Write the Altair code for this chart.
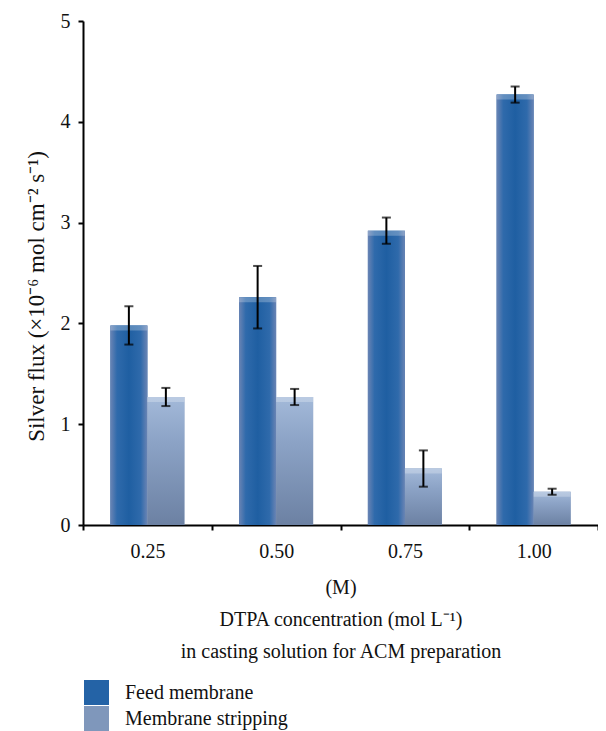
import altair as alt
import pandas as pd

conc = ["0.25", "0.50", "0.75", "1.00"]
series = ["Feed membrane", "Membrane stripping"]
feed = [1.98, 2.26, 2.92, 4.27]
feed_err = [0.19, 0.31, 0.13, 0.08]
strip = [1.27, 1.27, 0.56, 0.33]
strip_err = [0.09, 0.08, 0.18, 0.03]

rows = []
for c, v, e in zip(conc, feed, feed_err):
    rows.append({"conc": c, "series": series[0], "flux": v, "err": e})
for c, v, e in zip(conc, strip, strip_err):
    rows.append({"conc": c, "series": series[1], "flux": v, "err": e})
df = pd.DataFrame(rows)

FONT = "Liberation Serif"
YTITLE = "Silver flux (×10⁻⁶ mol cm⁻² s⁻¹)"

x_enc = alt.X(
    "conc:N",
    sort=conc,
    scale=alt.Scale(paddingInner=0, paddingOuter=0),
    axis=alt.Axis(
        title=["(M)", "DTPA concentration (mol L⁻¹)", "in casting solution for ACM preparation"],
        labelAngle=0,
        tickBand="extent",
        labelPadding=11,
        titlePadding=16,
        titleLineHeight=32,
    ),
)
xo_enc = alt.XOffset("series:N", sort=series, scale=alt.Scale(paddingOuter=0.74, paddingInner=0))
y_axis = alt.Axis(
    values=[0, 1, 2, 3, 4, 5], format="d", title=YTITLE, grid=False,
    labelPadding=8, titlePadding=12, titleFontSize=23, titleY=275,
)
y_scale = alt.Scale(domain=[0, 5], nice=False)

base = alt.Chart(df)

legend_bars = base.mark_bar().encode(
    x=x_enc,
    xOffset=xo_enc,
    y=alt.Y("flux:Q", scale=y_scale, axis=y_axis),
    color=alt.Color(
        "series:N",
        sort=series,
        scale=alt.Scale(domain=series, range=["#2463a6", "#7f97bb"]),
        legend=alt.Legend(
            title=None,
            orient="none",
            legendX=1,
            legendY=659,
            symbolType="square",
            symbolSize=625,
            symbolStrokeWidth=0,
            rowPadding=1,
            labelOffset=16,
            labelLimit=400,
            padding=0,
            labelFontSize=20,
            labelFont=FONT,
            labelColor="#111111",
        ),
    ),
)

feed_grad = alt.Gradient(
    gradient="linear", x1=0, x2=1, y1=0, y2=0,
    stops=[
        alt.GradientStop(color="#6a84b4", offset=0),
        alt.GradientStop(color="#2f6aab", offset=0.18),
        alt.GradientStop(color="#1f5fa2", offset=0.5),
        alt.GradientStop(color="#2f6aab", offset=0.82),
        alt.GradientStop(color="#6a84b4", offset=1),
    ],
)
strip_grad = alt.Gradient(
    gradient="linear", x1=0, x2=0, y1=0, y2=1,
    stops=[
        alt.GradientStop(color="#a3b9d9", offset=0),
        alt.GradientStop(color="#8ca3c6", offset=0.35),
        alt.GradientStop(color="#6c81a3", offset=1),
    ],
)

yq = alt.Y("flux:Q", scale=y_scale, title=YTITLE)

feed_bars = base.transform_filter(alt.datum.series == series[0]).mark_bar(fill=feed_grad).encode(
    x=x_enc, xOffset=xo_enc, y=yq
)
strip_bars = base.transform_filter(alt.datum.series == series[1]).mark_bar(fill=strip_grad).encode(
    x=x_enc, xOffset=xo_enc, y=yq
)
bevel = base.transform_calculate(top2="datum.flux - 0.05").mark_bar(
    fill="#ffffff", opacity=0.25
).encode(x=x_enc, xOffset=xo_enc, y=yq, y2="top2:Q")

err_base = base.transform_calculate(lo="datum.flux - datum.err", hi="datum.flux + datum.err")
err_rule = err_base.mark_rule(color="black", strokeWidth=2).encode(
    x=x_enc, xOffset=xo_enc, y=alt.Y("lo:Q", scale=y_scale, title=YTITLE), y2="hi:Q"
)
cap_lo = err_base.mark_tick(color="black", thickness=2, size=9).encode(
    x=x_enc, xOffset=xo_enc, y=alt.Y("lo:Q", scale=y_scale, title=YTITLE)
)
cap_hi = err_base.mark_tick(color="black", thickness=2, size=9).encode(
    x=x_enc, xOffset=xo_enc, y=alt.Y("hi:Q", scale=y_scale, title=YTITLE)
)

chart = (
    alt.layer(legend_bars, feed_bars, strip_bars, bevel, err_rule, cap_lo, cap_hi)
    .properties(
        width=515,
        height=504,
        autosize=alt.AutoSizeParams(type="none"),
        padding={"left": 75, "top": 13, "right": 0, "bottom": 206},
    )
    .configure_view(stroke=None)
    .configure_axis(
        labelFont=FONT,
        titleFont=FONT,
        labelFontSize=20,
        titleFontSize=20,
        titleFontWeight="normal",
        labelColor="#111111",
        titleColor="#111111",
        domainColor="black",
        domainWidth=2,
        tickColor="black",
        tickWidth=2,
        tickSize=5,
    )
)

chart.save("out.html", embed_options={"renderer": "svg", "actions": False})
